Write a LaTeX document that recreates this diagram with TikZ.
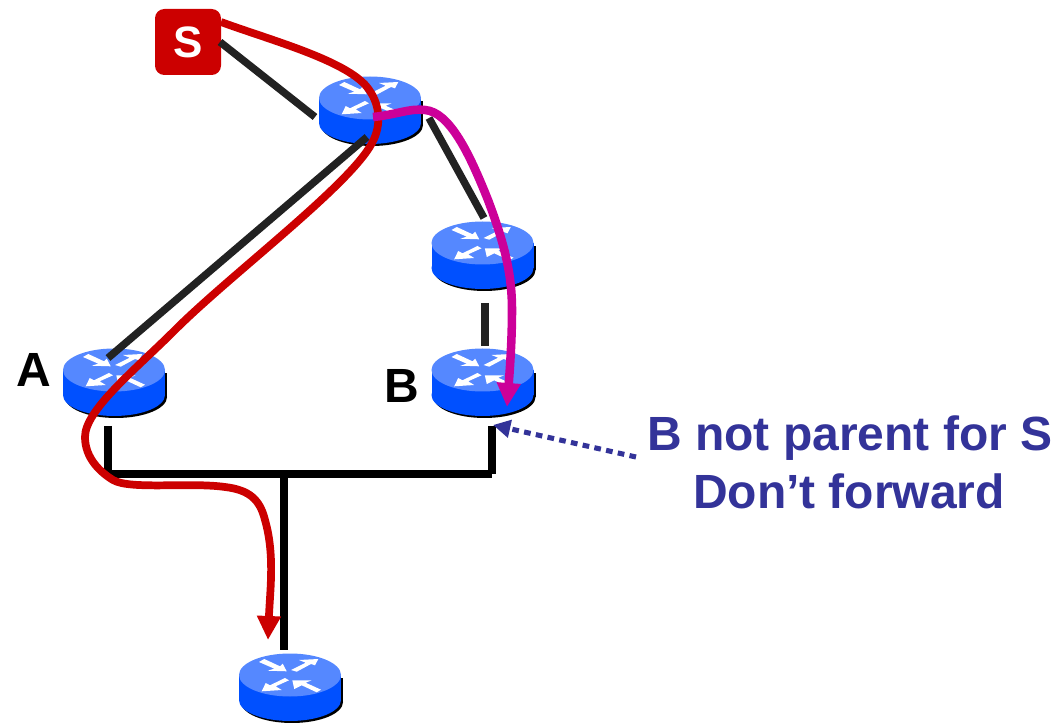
\documentclass[tikz,border=0pt]{standalone}
\usepackage{fontspec}
\setmainfont{Liberation Sans}
\usetikzlibrary{arrows.meta}
\definecolor{srcred}{HTML}{CC0000}
\definecolor{pinkline}{HTML}{CC0099}
\definecolor{navytxt}{HTML}{333399}
\definecolor{linkgrey}{HTML}{222222}
\definecolor{rtop}{HTML}{5588FF}
\definecolor{rbody}{HTML}{0050FF}
\tikzset{
  linkline/.style={draw=linkgrey,line width=5.6pt},
  busline/.style={draw=black,line width=6pt},
  redpath/.style={draw=srcred,line width=5.8pt,-{Triangle[length=18pt,width=17pt]}},
  pinkpath/.style={draw=pinkline,line width=6.4pt,-{Triangle[length=18pt,width=17pt]}},
  bigtxt/.style={font=\bfseries\fontsize{36}{40}\selectfont,text=black,inner sep=0pt},
  notetxt/.style={font=\bfseries\fontsize{36}{40}\selectfont,text=navytxt,inner sep=0pt},
}
\newcommand{\router}[3]{%
  \node[minimum width=76pt,minimum height=50pt,inner sep=0pt] (#1) at (#2,#3) {};
  \begin{scope}[shift={(#1.center)}]
    \fill[black] (-49,3) rectangle (53,27);
    \fill[black] (2,27) ellipse [x radius=51,y radius=21];
    \fill[rbody] (-51,0) rectangle (51,25);
    \fill[rbody] (0,25) ellipse [x radius=51,y radius=21];
    \fill[rtop] (0,0) ellipse [x radius=51,y radius=21.5];
    \fill[white] (-31,-13) -- (-25.7,-16) -- (-10,-8.7) -- (-7.3,-11.3) -- (-3.3,-3.7) -- (-22.3,-4.3) -- (-15.7,-6.3) -- cycle;
    \fill[white] (1,-5) -- (15.7,-12.3) -- (9,-15) -- (28.3,-16) -- (25,-9.7) -- (21,-11) -- (6.7,-3.3) -- cycle;
    \fill[white] (-5,3) -- (-1,5.3) -- (-14.3,11.3) -- (-8.3,15) -- (-28.3,16.3) -- (-24.3,8) -- (-20,10.3) -- cycle;
    \fill[white] (31,14.7) -- (26.7,17.3) -- (11.7,10.3) -- (4.3,14) -- (2.3,5.3) -- (21.7,5.3) -- (15.7,7.7) -- cycle;
  \end{scope}
}
\begin{document}
\begin{tikzpicture}[x=0.75pt,y=-0.75pt]
\useasboundingbox (0,0) rectangle (1057,723);
\router{rone}{370}{98}
\router{rtwo}{482.5}{243}
\router{rb}{482.5}{370}
\router{ra}{114}{370}
\router{rfive}{290}{675}

\node[fill=srcred,rounded corners=7pt,minimum width=49.5pt,minimum height=49.5pt,inner sep=0pt,
      text=white,font=\bfseries\fontsize{33}{36}\selectfont] (src) at (188,42) {S};

\coordinate (sa) at (220,42);   \coordinate (sb) at (315,117);
\coordinate (oa) at (367,137);  \coordinate (ob) at (108,358);
\coordinate (ta) at (429,118);  \coordinate (tb) at (484,218);
\coordinate (ua) at (485,303);  \coordinate (ub) at (485,346);
\coordinate (aa) at (108,426);  \coordinate (ac) at (108,478);
\coordinate (ba) at (492,426);  \coordinate (bc) at (492,474);
\coordinate (busl) at (104,474);
\coordinate (da) at (284,474);  \coordinate (db) at (284,650);

\draw[linkline] (sa) -- (sb);
\draw[linkline] (oa) -- (ob);
\draw[linkline] (ta) -- (tb);
\draw[linkline,line width=6pt] (ua) -- (ub);

\draw[busline] (aa) -- (ac);
\draw[busline] (ba) -- (bc);
\draw[busline] (busl) -- (bc);
\draw[busline] (da) -- (db);

\coordinate (redstart) at (221,22);
\coordinate (redend) at (268,640);
\draw[redpath] (redstart) .. controls (270,40) and (345,60) .. (367,87)
  .. controls (380,103) and (382,125) .. (372,143)
  .. controls (350,185) and (230,275) .. (175,330)
  .. controls (135,370) and (85,410) .. (85,437)
  .. controls (85,458) and (100,472) .. (113,480)
  .. controls (130,490) and (190,482) .. (225,487)
  .. controls (250,490) and (260,500) .. (265,520)
  .. controls (275,555) and (270,590) .. (redend);

\coordinate (pinkstart) at (373,117);
\coordinate (pinkend) at (507,407);
\draw[pinkpath] (pinkstart) .. controls (395,115) and (410,108) .. (425,110)
  .. controls (450,112) and (470,155) .. (488,200)
  .. controls (505,245) and (512,275) .. (512,310)
  .. controls (512,345) and (509,380) .. (pinkend);

\node[bigtxt] (la) at (34,370) {A};
\node[bigtxt] (lb) at (402,386) {B};
\node[notetxt] (nt1) at (850,438) {B not parent for S};
\node[notetxt] (nt2) at (849,491) {Don’t forward};

\coordinate (dotstart) at (636,457);
\coordinate (dotend) at (493,425);
\draw[draw=navytxt,line width=3.8pt,dash pattern=on 5pt off 4pt,
      -{Triangle[length=13pt,width=13pt]}] (dotstart) -- (dotend);
\end{tikzpicture}
\end{document}
